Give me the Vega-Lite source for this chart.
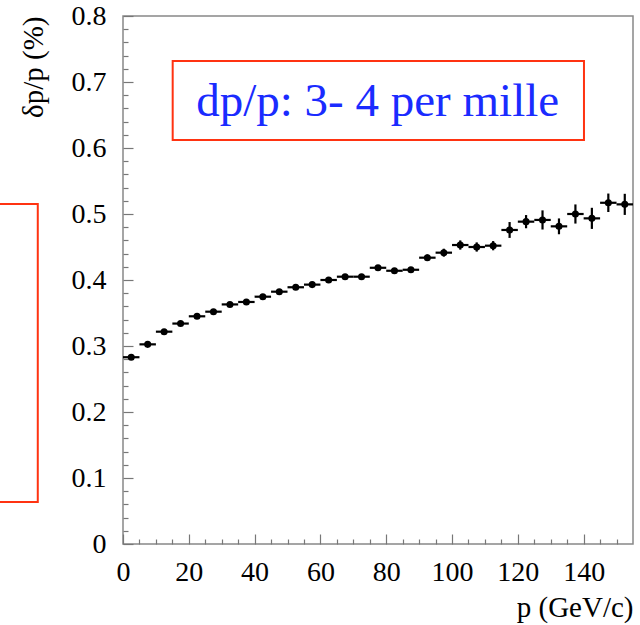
{
  "$schema": "https://vega.github.io/schema/vega-lite/v6.json",
  "autosize": "none",
  "width": 510,
  "height": 528,
  "padding": {"left": 123, "top": 16, "right": 7, "bottom": 81},
  "background": "white",
  "config": {
    "view": {"stroke": "#888888", "strokeWidth": 1.5},
    "font": "Liberation Serif, Times New Roman, Times, serif",
    "axis": {
      "domain": false,
      "grid": false,
      "labelFont": "Liberation Serif, Times New Roman, Times, serif",
      "labelFontSize": 28,
      "labelColor": "black",
      "labelOverlap": false,
      "labelFlush": false,
      "tickColor": "#777777",
      "tickWidth": 1.2,
      "titleFont": "Liberation Serif, Times New Roman, Times, serif",
      "titleFontSize": 29,
      "titleFontWeight": "normal",
      "titleColor": "black"
    }
  },
  "datasets": {
    "res": [
      {"p": 2.5, "v": 0.283, "e": 0.002, "dp": 2.5},
      {"p": 7.5, "v": 0.3025, "e": 0.002, "dp": 2.5},
      {"p": 12.5, "v": 0.3217, "e": 0.002, "dp": 2.5},
      {"p": 17.5, "v": 0.334, "e": 0.002, "dp": 2.5},
      {"p": 22.5, "v": 0.345, "e": 0.002, "dp": 2.5},
      {"p": 27.5, "v": 0.352, "e": 0.002, "dp": 2.5},
      {"p": 32.5, "v": 0.363, "e": 0.002, "dp": 2.5},
      {"p": 37.5, "v": 0.3667, "e": 0.002, "dp": 2.5},
      {"p": 42.5, "v": 0.3747, "e": 0.002, "dp": 2.5},
      {"p": 47.5, "v": 0.3823, "e": 0.003, "dp": 2.5},
      {"p": 52.5, "v": 0.389, "e": 0.003, "dp": 2.5},
      {"p": 57.5, "v": 0.393, "e": 0.003, "dp": 2.5},
      {"p": 62.5, "v": 0.4, "e": 0.003, "dp": 2.5},
      {"p": 67.5, "v": 0.405, "e": 0.003, "dp": 2.5},
      {"p": 72.5, "v": 0.405, "e": 0.003, "dp": 2.5},
      {"p": 77.5, "v": 0.4185, "e": 0.004, "dp": 2.5},
      {"p": 82.5, "v": 0.414, "e": 0.004, "dp": 2.5},
      {"p": 87.5, "v": 0.4155, "e": 0.004, "dp": 2.5},
      {"p": 92.5, "v": 0.4338, "e": 0.005, "dp": 2.5},
      {"p": 97.5, "v": 0.4414, "e": 0.006, "dp": 2.5},
      {"p": 102.5, "v": 0.453, "e": 0.007, "dp": 2.5},
      {"p": 107.5, "v": 0.45, "e": 0.007, "dp": 2.5},
      {"p": 112.5, "v": 0.452, "e": 0.007, "dp": 2.5},
      {"p": 117.5, "v": 0.4758, "e": 0.012, "dp": 2.5},
      {"p": 122.5, "v": 0.4884, "e": 0.01, "dp": 2.5},
      {"p": 127.5, "v": 0.491, "e": 0.0145, "dp": 2.5},
      {"p": 132.5, "v": 0.4813, "e": 0.012, "dp": 2.5},
      {"p": 137.5, "v": 0.5, "e": 0.0145, "dp": 2.5},
      {"p": 142.5, "v": 0.4934, "e": 0.016, "dp": 2.5},
      {"p": 147.5, "v": 0.517, "e": 0.014, "dp": 2.5},
      {"p": 152.5, "v": 0.5146, "e": 0.016, "dp": 2.5}
    ],
    "note": [{"label": "dp/p: 3- 4 per mille"}]
  },
  "layer": [
    {
      "data": {"name": "res"},
      "mark": {"type": "errorbar", "color": "black", "thickness": 2.2},
      "encoding": {
        "x": {
          "field": "p", "type": "quantitative",
          "scale": {"domain": [0, 155], "nice": false, "zero": false},
          "axis": {"title": "p (GeV/c)", "values": [0,5,10,15,20,25,30,35,40,45,50,55,60,65,70,75,80,85,90,95,100,105,110,115,120,125,130,135,140,145,150], "labelExpr": "datum.value % 20 === 0 ? format(datum.value, 'd') : ''", "tickSize": {"condition": {"test": "datum.value % 20 === 0", "value": -10}, "value": -5}, "labelPadding": 24, "titleAnchor": "end", "titleAlign": "right", "titleBaseline": "alphabetic", "titleX": 510, "titleY": 72}
        },
        "xError": {"field": "dp"},
        "y": {
          "field": "v", "type": "quantitative",
          "scale": {"domain": [0, 0.8], "nice": false, "zero": false},
          "axis": {"title": "δp/p (%)", "values": [0,0.02,0.04,0.06,0.08,0.1,0.12,0.14,0.16,0.18,0.2,0.22,0.24,0.26,0.28,0.3,0.32,0.34,0.36,0.38,0.4,0.42,0.44,0.46,0.48,0.5,0.52,0.54,0.56,0.58,0.6,0.62,0.64,0.66,0.68,0.7,0.72,0.74,0.76,0.78,0.8], "labelExpr": "abs(datum.value*10 - round(datum.value*10)) < 0.001 ? (datum.value == 0 ? '0' : format(datum.value, '.1f')) : ''", "tickSize": {"condition": {"test": "abs(datum.value*10 - round(datum.value*10)) < 0.001", "value": -10}, "value": -5}, "labelPadding": 27, "titleAngle": -90, "titleAnchor": "end", "titleAlign": "right", "titleBaseline": "alphabetic", "titleX": -81, "titleY": 0}
        }
      }
    },
    {
      "data": {"name": "res"},
      "mark": {"type": "errorbar", "color": "black", "thickness": 2.2},
      "encoding": {
        "x": {
          "field": "p", "type": "quantitative",
          "scale": {"domain": [0, 155], "nice": false, "zero": false},
          "axis": {"title": "p (GeV/c)", "values": [0,5,10,15,20,25,30,35,40,45,50,55,60,65,70,75,80,85,90,95,100,105,110,115,120,125,130,135,140,145,150], "labelExpr": "datum.value % 20 === 0 ? format(datum.value, 'd') : ''", "tickSize": {"condition": {"test": "datum.value % 20 === 0", "value": -10}, "value": -5}, "labelPadding": 24, "titleAnchor": "end", "titleAlign": "right", "titleBaseline": "alphabetic", "titleX": 510, "titleY": 72}
        },
        "y": {
          "field": "v", "type": "quantitative",
          "scale": {"domain": [0, 0.8], "nice": false, "zero": false},
          "axis": {"title": "δp/p (%)", "values": [0,0.02,0.04,0.06,0.08,0.1,0.12,0.14,0.16,0.18,0.2,0.22,0.24,0.26,0.28,0.3,0.32,0.34,0.36,0.38,0.4,0.42,0.44,0.46,0.48,0.5,0.52,0.54,0.56,0.58,0.6,0.62,0.64,0.66,0.68,0.7,0.72,0.74,0.76,0.78,0.8], "labelExpr": "abs(datum.value*10 - round(datum.value*10)) < 0.001 ? (datum.value == 0 ? '0' : format(datum.value, '.1f')) : ''", "tickSize": {"condition": {"test": "abs(datum.value*10 - round(datum.value*10)) < 0.001", "value": -10}, "value": -5}, "labelPadding": 27, "titleAngle": -90, "titleAnchor": "end", "titleAlign": "right", "titleBaseline": "alphabetic", "titleX": -81, "titleY": 0}
        },
        "yError": {"field": "e"}
      }
    },
    {
      "data": {"name": "res"},
      "mark": {"type": "point", "filled": true, "color": "black", "size": 50, "opacity": 1},
      "encoding": {
        "x": {
          "field": "p", "type": "quantitative",
          "scale": {"domain": [0, 155], "nice": false, "zero": false},
          "axis": {"title": "p (GeV/c)", "values": [0,5,10,15,20,25,30,35,40,45,50,55,60,65,70,75,80,85,90,95,100,105,110,115,120,125,130,135,140,145,150], "labelExpr": "datum.value % 20 === 0 ? format(datum.value, 'd') : ''", "tickSize": {"condition": {"test": "datum.value % 20 === 0", "value": -10}, "value": -5}, "labelPadding": 24, "titleAnchor": "end", "titleAlign": "right", "titleBaseline": "alphabetic", "titleX": 510, "titleY": 72}
        },
        "y": {
          "field": "v", "type": "quantitative",
          "scale": {"domain": [0, 0.8], "nice": false, "zero": false},
          "axis": {"title": "δp/p (%)", "values": [0,0.02,0.04,0.06,0.08,0.1,0.12,0.14,0.16,0.18,0.2,0.22,0.24,0.26,0.28,0.3,0.32,0.34,0.36,0.38,0.4,0.42,0.44,0.46,0.48,0.5,0.52,0.54,0.56,0.58,0.6,0.62,0.64,0.66,0.68,0.7,0.72,0.74,0.76,0.78,0.8], "labelExpr": "abs(datum.value*10 - round(datum.value*10)) < 0.001 ? (datum.value == 0 ? '0' : format(datum.value, '.1f')) : ''", "tickSize": {"condition": {"test": "abs(datum.value*10 - round(datum.value*10)) < 0.001", "value": -10}, "value": -5}, "labelPadding": 27, "titleAngle": -90, "titleAnchor": "end", "titleAlign": "right", "titleBaseline": "alphabetic", "titleX": -81, "titleY": 0}
        }
      }
    },
    {
      "data": {"name": "note"},
      "mark": {"type": "rect", "fillOpacity": 0, "fill": "white", "stroke": "#ff3311", "strokeWidth": 2},
      "encoding": {
        "x": {
          "datum": 15.1, "type": "quantitative",
          "scale": {"domain": [0, 155], "nice": false, "zero": false},
          "axis": {"title": "p (GeV/c)", "values": [0,5,10,15,20,25,30,35,40,45,50,55,60,65,70,75,80,85,90,95,100,105,110,115,120,125,130,135,140,145,150], "labelExpr": "datum.value % 20 === 0 ? format(datum.value, 'd') : ''", "tickSize": {"condition": {"test": "datum.value % 20 === 0", "value": -10}, "value": -5}, "labelPadding": 24, "titleAnchor": "end", "titleAlign": "right", "titleBaseline": "alphabetic", "titleX": 510, "titleY": 72}
        },
        "x2": {"datum": 140.1},
        "y": {
          "datum": 0.7318, "type": "quantitative",
          "scale": {"domain": [0, 0.8], "nice": false, "zero": false},
          "axis": {"title": "δp/p (%)", "values": [0,0.02,0.04,0.06,0.08,0.1,0.12,0.14,0.16,0.18,0.2,0.22,0.24,0.26,0.28,0.3,0.32,0.34,0.36,0.38,0.4,0.42,0.44,0.46,0.48,0.5,0.52,0.54,0.56,0.58,0.6,0.62,0.64,0.66,0.68,0.7,0.72,0.74,0.76,0.78,0.8], "labelExpr": "abs(datum.value*10 - round(datum.value*10)) < 0.001 ? (datum.value == 0 ? '0' : format(datum.value, '.1f')) : ''", "tickSize": {"condition": {"test": "abs(datum.value*10 - round(datum.value*10)) < 0.001", "value": -10}, "value": -5}, "labelPadding": 27, "titleAngle": -90, "titleAnchor": "end", "titleAlign": "right", "titleBaseline": "alphabetic", "titleX": -81, "titleY": 0}
        },
        "y2": {"datum": 0.612}
      }
    },
    {
      "data": {"name": "note"},
      "mark": {"type": "text", "font": "Liberation Serif, Times New Roman, Times, serif", "fontSize": 47, "color": "#1a2bff", "align": "center", "baseline": "alphabetic"},
      "encoding": {
        "x": {
          "datum": 77.4, "type": "quantitative",
          "scale": {"domain": [0, 155], "nice": false, "zero": false},
          "axis": {"title": "p (GeV/c)", "values": [0,5,10,15,20,25,30,35,40,45,50,55,60,65,70,75,80,85,90,95,100,105,110,115,120,125,130,135,140,145,150], "labelExpr": "datum.value % 20 === 0 ? format(datum.value, 'd') : ''", "tickSize": {"condition": {"test": "datum.value % 20 === 0", "value": -10}, "value": -5}, "labelPadding": 24, "titleAnchor": "end", "titleAlign": "right", "titleBaseline": "alphabetic", "titleX": 510, "titleY": 72}
        },
        "y": {
          "datum": 0.648, "type": "quantitative",
          "scale": {"domain": [0, 0.8], "nice": false, "zero": false},
          "axis": {"title": "δp/p (%)", "values": [0,0.02,0.04,0.06,0.08,0.1,0.12,0.14,0.16,0.18,0.2,0.22,0.24,0.26,0.28,0.3,0.32,0.34,0.36,0.38,0.4,0.42,0.44,0.46,0.48,0.5,0.52,0.54,0.56,0.58,0.6,0.62,0.64,0.66,0.68,0.7,0.72,0.74,0.76,0.78,0.8], "labelExpr": "abs(datum.value*10 - round(datum.value*10)) < 0.001 ? (datum.value == 0 ? '0' : format(datum.value, '.1f')) : ''", "tickSize": {"condition": {"test": "abs(datum.value*10 - round(datum.value*10)) < 0.001", "value": -10}, "value": -5}, "labelPadding": 27, "titleAngle": -90, "titleAnchor": "end", "titleAlign": "right", "titleBaseline": "alphabetic", "titleX": -81, "titleY": 0}
        },
        "text": {"field": "label"}
      }
    },
    {
      "data": {"name": "note"},
      "mark": {"type": "rect", "fillOpacity": 0, "fill": "white", "stroke": "#ff3311", "strokeWidth": 2},
      "encoding": {
        "x": {
          "datum": -60, "type": "quantitative",
          "scale": {"domain": [0, 155], "nice": false, "zero": false},
          "axis": {"title": "p (GeV/c)", "values": [0,5,10,15,20,25,30,35,40,45,50,55,60,65,70,75,80,85,90,95,100,105,110,115,120,125,130,135,140,145,150], "labelExpr": "datum.value % 20 === 0 ? format(datum.value, 'd') : ''", "tickSize": {"condition": {"test": "datum.value % 20 === 0", "value": -10}, "value": -5}, "labelPadding": 24, "titleAnchor": "end", "titleAlign": "right", "titleBaseline": "alphabetic", "titleX": 510, "titleY": 72}
        },
        "x2": {"datum": -25.9},
        "y": {
          "datum": 0.5152, "type": "quantitative",
          "scale": {"domain": [0, 0.8], "nice": false, "zero": false},
          "axis": {"title": "δp/p (%)", "values": [0,0.02,0.04,0.06,0.08,0.1,0.12,0.14,0.16,0.18,0.2,0.22,0.24,0.26,0.28,0.3,0.32,0.34,0.36,0.38,0.4,0.42,0.44,0.46,0.48,0.5,0.52,0.54,0.56,0.58,0.6,0.62,0.64,0.66,0.68,0.7,0.72,0.74,0.76,0.78,0.8], "labelExpr": "abs(datum.value*10 - round(datum.value*10)) < 0.001 ? (datum.value == 0 ? '0' : format(datum.value, '.1f')) : ''", "tickSize": {"condition": {"test": "abs(datum.value*10 - round(datum.value*10)) < 0.001", "value": -10}, "value": -5}, "labelPadding": 27, "titleAngle": -90, "titleAnchor": "end", "titleAlign": "right", "titleBaseline": "alphabetic", "titleX": -81, "titleY": 0}
        },
        "y2": {"datum": 0.0636}
      }
    }
  ]
}
